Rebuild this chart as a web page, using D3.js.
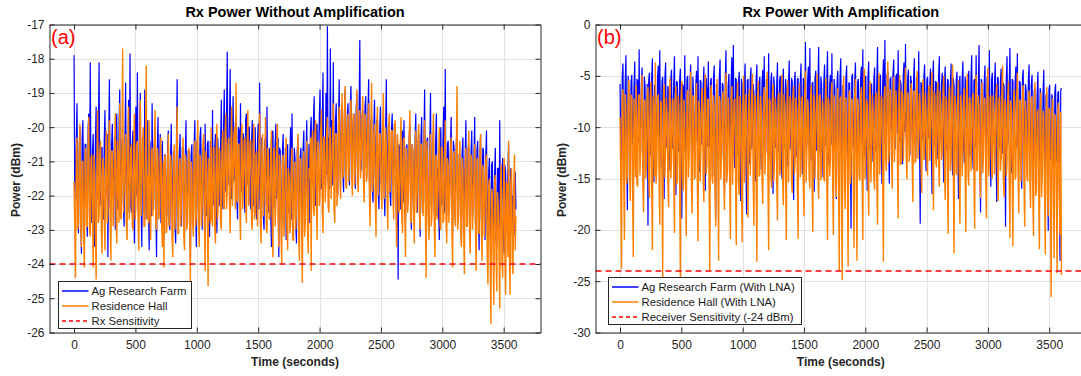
<!DOCTYPE html>
<html>
<head>
<meta charset="utf-8">
<script src="https://cdn.jsdelivr.net/npm/d3@7"></script>
<style>
  body { margin: 0; background: #fff; }
  svg { display: block; font-family: "Liberation Sans", Arial, sans-serif; }
</style>
</head>
<body>
<svg id="chart" width="1081" height="376"></svg>
<script>
// one reading every 6 seconds (0 .. 3600 s), dBm
const sampleStep = 6;

const farmNoAmp = [
  -17.9,-22.2,-21.4,-20.4,-19.3,-22.0,-23.1,-20.6,-20.0,-22.4,-23.7,-20.3,-19.8,-21.9,-22.6,-20.5,-20.5,-22.3,-23.2,-20.1,-19.6,-22.1,-18.1,-21.8,-22.8,-20.7,-20.2,-22.5,-23.5,-20.4,-19.4,-22.0,-22.1,-20.2,-18.1,-22.3,-21.9,-20.6,-20.6,-22.2,
  -22.7,-20.4,-19.5,-22.1,-21.8,-20.2,-23.8,-20.6,-18.6,-22.3,-22.4,-20.5,-19.9,-22.0,-21.3,-20.3,-23.0,-20.7,-19.6,-22.4,-22.2,-20.1,-18.9,-21.9,-21.6,-20.4,-20.3,-22.2,-22.9,-20.6,-18.7,-22.0,-21.1,-22.5,-19.2,-21.8,-17.85,-22.3,-22.5,-20.5,
  -20.1,-22.3,-23.4,-20.5,-19.4,-22.0,-18.4,-22.4,-22.0,-20.2,-19.0,-22.1,-23.5,-20.6,-20.6,-22.5,-18.9,-21.9,-22.7,-20.3,-19.8,-22.2,-23.6,-20.4,-20.9,-22.6,-19.3,-22.0,-22.4,-20.5,-20.0,-22.3,-23.8,-20.7,-19.7,-22.1,-21.5,-20.2,-22.8,-20.6,
  -20.4,-22.7,-23.3,-20.8,-21.0,-22.5,-22.6,-20.6,-20.1,-22.8,-23.0,-20.9,-19.9,-22.4,-22.1,-20.7,-20.8,-22.9,-23.4,-20.5,-18.6,-22.6,-21.7,-20.8,-20.2,-22.7,-22.9,-20.6,-20.6,-22.5,-23.1,-20.9,-19.8,-22.8,-22.0,-20.7,-20.7,-22.6,-23.9,-20.8,
  -20.5,-22.4,-22.8,-20.6,-19.8,-22.2,-23.5,-20.4,-20.9,-22.5,-22.2,-20.3,-20.0,-22.1,-23.0,-20.6,-21.2,-22.6,-19.9,-22.3,-22.6,-20.5,-20.4,-22.0,-23.2,-20.4,-20.7,-22.4,-19.5,-22.2,-22.3,-20.6,-20.2,-22.5,-23.1,-20.3,-20.8,-22.3,-21.9,-20.5,
  -19.2,-21.8,-22.4,-20.0,-18.9,-21.9,-21.6,-19.8,-17.8,-21.7,-20.9,-19.9,-18.3,-22.0,-22.1,-20.1,-19.1,-21.6,-21.4,-19.9,-19.7,-22.1,-22.7,-20.0,-20.1,-21.8,-19.3,-21.9,-21.8,-20.2,-20.2,-22.0,-22.5,-19.8,-19.6,-21.7,-21.1,-20.0,-20.0,-22.2,
  -22.4,-20.4,-19.8,-22.3,-21.2,-22.5,-20.0,-22.1,-22.7,-20.5,-19.9,-22.4,-18.7,-22.2,-22.0,-20.3,-20.6,-22.6,-23.0,-20.4,-20.3,-22.3,-19.4,-22.0,-22.5,-20.6,-20.8,-22.5,-23.5,-20.2,-20.1,-22.4,-22.2,-20.5,-19.9,-22.1,-21.6,-20.3,-23.8,-20.6,
  -20.7,-22.6,-22.9,-20.7,-20.2,-22.8,-21.8,-20.6,-23.3,-20.9,-20.5,-22.5,-22.4,-20.8,-20.0,-22.7,-19.6,-22.4,-22.7,-20.6,-20.9,-22.8,-23.4,-20.7,-20.3,-22.6,-21.9,-20.9,-20.6,-22.5,-23.1,-20.6,-20.1,-22.7,-22.3,-20.8,-19.8,-22.4,-21.7,-20.5,
  -22.8,-20.1,-19.7,-21.7,-21.4,-19.8,-19.1,-21.9,-22.3,-20.0,-19.9,-21.6,-21.0,-19.7,-18.9,-21.8,-21.8,-19.9,-18.4,-21.5,-20.6,-21.7,-19.0,-21.4,-17.05,-21.6,-20.3,-21.8,-17.7,-21.3,-19.8,-21.7,-18.1,-21.5,-21.5,-19.8,-19.3,-21.9,-22.0,-19.9,
  -18.6,-21.2,-21.3,-19.5,-19.4,-21.4,-21.9,-19.7,-18.9,-21.1,-20.8,-19.6,-19.3,-21.3,-21.7,-19.4,-18.8,-21.0,-20.4,-19.8,-19.6,-21.4,-21.8,-19.5,-19.0,-21.2,-20.9,-19.6,-17.45,-21.3,-21.2,-19.7,-19.5,-21.5,-21.9,-19.4,-19.1,-21.2,-20.6,-19.6,
  -18.6,-21.6,-21.5,-19.9,-19.7,-21.8,-22.2,-20.0,-19.2,-21.5,-21.0,-19.8,-19.8,-21.9,-22.4,-20.1,-19.4,-21.7,-21.3,-19.9,-20.2,-21.8,-22.6,-20.2,-18.6,-21.6,-21.2,-20.0,-19.9,-21.9,-22.3,-20.1,-19.6,-21.7,-21.7,-19.9,-20.4,-21.8,-22.9,-20.2,
  -24.45,-20.5,-20.6,-22.4,-22.3,-20.4,-20.1,-22.2,-19.8,-22.5,-22.8,-20.6,-20.5,-22.3,-21.9,-20.3,-19.9,-22.1,-23.0,-20.5,-20.7,-22.4,-21.6,-20.4,-19.6,-22.2,-22.5,-20.6,-20.2,-22.3,-23.2,-20.3,-19.7,-22.5,-21.4,-20.5,-18.9,-22.2,-22.1,-20.4,
  -20.3,-22.5,-23.0,-20.5,-19.0,-22.3,-21.8,-20.6,-20.1,-22.4,-22.7,-20.4,-19.6,-22.6,-21.2,-22.5,-23.3,-20.6,-20.0,-22.3,-22.1,-20.4,-19.4,-22.5,-18.3,-22.2,-22.6,-20.5,-20.4,-22.4,-21.9,-20.6,-19.7,-22.3,-23.1,-20.4,-20.6,-22.6,-22.0,-20.5,
  -19.9,-22.7,-22.5,-20.8,-20.8,-22.6,-23.4,-20.7,-20.3,-22.8,-21.8,-20.9,-19.8,-22.5,-22.9,-20.6,-20.6,-22.7,-23.2,-20.8,-20.1,-22.6,-21.7,-20.9,-19.7,-22.8,-22.8,-20.7,-20.4,-22.5,-23.6,-20.8,-20.2,-22.7,-22.0,-20.6,-20.7,-22.6,-23.3,-20.9,
  -20.1,-23.1,-22.6,-21.3,-20.9,-23.2,-23.1,-21.1,-21.0,-23.0,-22.4,-21.4,-20.6,-23.3,-23.5,-21.2,-21.2,-23.1,-19.8,-22.9,-22.8,-21.3,-20.9,-23.2,-23.7,-21.1,-21.3,-23.0,-22.2,-21.4,-20.5,-23.3,-23.4,-21.2,-21.6,-23.1,-22.0,-23.2,-23.0,-21.3,
  -22.4
];

const hallNoAmp = [
  -21.6,-22.9,-24.4,-20.9,-20.3,-23.0,-22.8,-20.7,-19.9,-22.8,-23.5,-21.0,-21.0,-23.1,-24.1,-20.8,-20.6,-22.9,-22.9,-20.6,-19.7,-23.0,-23.2,-20.9,-20.8,-22.7,-24.1,-20.8,-21.3,-23.1,-24.45,-21.0,-19.5,-22.8,-22.6,-20.7,-20.4,-23.0,-23.7,-20.9,
  -21.2,-22.7,-23.6,-20.6,-20.1,-22.8,-22.4,-20.5,-19.8,-22.6,-23.9,-20.7,-20.7,-22.9,-22.2,-20.6,-19.6,-22.7,-23.4,-20.4,-21.1,-22.8,-19.3,-22.6,-22.7,-20.7,-17.7,-22.5,-21.8,-20.6,-20.2,-22.8,-23.3,-20.5,-19.4,-22.7,-22.0,-20.6,-20.5,-22.9,
  -23.0,-20.6,-19.6,-22.7,-22.3,-20.5,-20.4,-22.8,-23.6,-20.7,-19.2,-22.6,-21.7,-20.4,-20.0,-22.9,-22.9,-20.6,-18.2,-22.7,-21.4,-22.8,-19.8,-22.5,-23.3,-20.7,-20.6,-22.6,-22.1,-20.5,-19.5,-22.8,-23.0,-20.6,-20.9,-22.7,-22.5,-20.8,-20.3,-22.9,
  -23.5,-21.0,-24.1,-20.9,-20.8,-23.1,-23.0,-21.1,-20.2,-22.9,-22.7,-20.8,-21.1,-23.2,-23.8,-21.0,-20.5,-23.0,-22.4,-20.9,-19.4,-23.1,-23.1,-21.2,-20.9,-22.9,-22.0,-21.0,-20.3,-23.2,-23.6,-20.8,-21.0,-23.0,-22.8,-21.1,-20.6,-22.9,-24.5,-21.0,
  -21.3,-22.8,-23.2,-20.7,-20.4,-22.9,-22.6,-20.6,-19.8,-22.7,-23.5,-20.8,-21.1,-22.9,-22.3,-20.5,-20.2,-22.8,-24.2,-20.7,-20.9,-22.6,-24.65,-20.9,-21.5,-22.8,-20.0,-22.7,-22.9,-20.6,-20.6,-22.9,-23.4,-20.8,-19.9,-22.7,-22.1,-20.6,-20.7,-22.8,
  -23.0,-20.4,-20.1,-22.3,-22.4,-20.3,-19.6,-22.4,-21.9,-20.5,-20.3,-22.2,-23.1,-20.4,-19.4,-22.3,-21.6,-20.2,-20.0,-22.4,-18.7,-22.1,-22.2,-20.5,-20.5,-22.3,-23.3,-20.3,-19.9,-22.4,-21.7,-20.4,-20.3,-22.2,-22.8,-20.5,-19.5,-22.3,-21.4,-20.4,
  -20.4,-22.8,-23.0,-20.7,-19.9,-22.7,-22.5,-20.8,-20.7,-22.9,-21.8,-20.6,-19.6,-22.8,-23.4,-20.7,-20.2,-22.6,-22.1,-20.8,-19.7,-22.9,-23.1,-20.6,-20.9,-22.7,-22.6,-20.8,-20.1,-22.8,-23.8,-20.7,-20.6,-22.9,-22.3,-20.6,-19.9,-22.7,-23.5,-20.8,
  -21.2,-23.1,-24.0,-21.0,-20.8,-23.2,-22.7,-21.1,-20.3,-23.0,-23.6,-21.2,-21.4,-23.1,-22.9,-21.0,-20.6,-23.3,-23.3,-21.1,-21.0,-23.0,-22.4,-21.2,-20.2,-23.2,-23.9,-20.9,-21.1,-23.1,-24.55,-21.0,-20.7,-23.2,-22.8,-21.1,-20.4,-23.0,-23.7,-21.2,
  -21.5,-20.3,-24.2,-20.4,-20.1,-22.3,-22.6,-20.2,-19.8,-22.2,-23.3,-20.4,-20.6,-22.3,-22.0,-20.1,-19.5,-22.4,-23.1,-20.3,-20.3,-22.2,-21.7,-20.2,-19.7,-22.3,-22.5,-20.4,-20.0,-22.1,-21.4,-20.3,-19.3,-22.4,-22.8,-20.2,-20.2,-22.3,-21.9,-20.1,
  -19.4,-21.6,-22.1,-19.8,-19.0,-21.5,-21.3,-19.7,-18.8,-21.7,-21.8,-19.9,-19.6,-21.6,-20.9,-19.8,-19.2,-21.5,-22.0,-19.6,-19.7,-21.7,-21.2,-19.9,-18.9,-21.6,-21.9,-19.7,-19.5,-21.5,-20.8,-19.8,-19.1,-21.7,-22.2,-19.6,-19.8,-21.6,-21.4,-19.8,
  -19.3,-22.0,-22.9,-20.1,-18.7,-21.9,-21.6,-20.2,-19.9,-22.1,-23.2,-20.0,-19.4,-22.0,-21.1,-20.2,-20.2,-21.9,-22.4,-20.1,-19.0,-22.1,-21.8,-20.0,-20.5,-22.0,-23.0,-20.2,-19.6,-21.9,-21.4,-20.1,-20.1,-22.1,-22.7,-20.0,-19.8,-22.0,-23.5,-20.2,
  -20.6,-22.5,-22.4,-20.5,-19.7,-22.6,-23.1,-20.4,-20.3,-22.4,-23.8,-20.6,-20.9,-22.5,-22.0,-20.3,-19.5,-22.7,-22.8,-20.5,-20.7,-22.4,-23.4,-20.6,-20.1,-22.5,-21.9,-20.4,-19.9,-22.6,-23.0,-20.5,-20.5,-22.3,-22.6,-20.6,-19.8,-22.5,-24.4,-20.4,
  -21.0,-22.8,-23.3,-20.8,-20.2,-22.9,-22.5,-20.7,-19.6,-22.8,-23.8,-20.9,-20.8,-22.7,-22.1,-20.8,-20.0,-22.9,-23.0,-20.6,-20.6,-22.8,-22.7,-20.8,-19.8,-22.7,-23.4,-20.9,-21.1,-22.8,-22.2,-20.7,-20.3,-22.9,-24.1,-20.8,-20.7,-22.7,-22.9,-20.9,
  -18.8,-23.0,-22.6,-21.0,-20.4,-23.1,-23.5,-20.9,-21.2,-23.0,-24.3,-21.1,-20.6,-22.9,-22.9,-21.0,-20.1,-23.2,-23.7,-20.8,-21.0,-23.0,-22.3,-21.1,-20.5,-22.9,-24.2,-21.0,-20.9,-23.1,-23.1,-20.9,-20.2,-23.0,-23.9,-21.1,-21.3,-23.2,-22.5,-21.0,
  -20.8,-23.8,-24.6,-21.7,-21.5,-23.9,-25.76,-21.8,-22.0,-23.7,-25.2,-21.6,-21.4,-23.8,-24.8,-21.9,-22.3,-23.6,-25.3,-21.7,-21.1,-23.9,-24.4,-21.8,-20.9,-23.7,-24.9,-21.6,-21.7,-23.8,-20.4,-23.5,-24.9,-21.7,-21.2,-23.9,-24.3,-21.8,-20.8,-23.6,
  -22.6
];

const farmLna = [
  -5.8,-11.8,-15.2,-5.2,-3.8,-12.1,-11.6,-5.9,-3.0,-11.4,-18.1,-5.0,-6.4,-12.3,-13.2,-5.6,-4.9,-11.7,-9.8,-6.1,-3.6,-12.0,-14.7,-5.3,-5.5,-11.5,-2.4,-12.2,-12.3,-5.7,-4.2,-11.9,-16.1,-5.1,-6.0,-12.4,-11.0,-5.8,-19.6,-5.4,
  -4.7,-11.6,-12.8,-5.4,-3.3,-12.2,-15.4,-5.9,-6.2,-11.8,-10.5,-5.1,-4.0,-12.0,-2.5,-11.5,-13.9,-5.6,-5.1,-12.3,-17.0,-5.2,-3.7,-11.9,-11.8,-6.0,-6.6,-11.7,-14.2,-5.3,-4.4,-12.1,-9.5,-5.8,-3.1,-11.4,-16.6,-5.5,-5.7,-12.0,
  -12.4,-5.5,-4.3,-11.9,-18.9,-5.8,-6.1,-12.2,-3.0,-11.6,-13.5,-5.3,-5.0,-12.0,-10.2,-5.7,-3.9,-11.8,-15.1,-5.1,-6.8,-12.3,-11.7,-5.9,-4.5,-11.5,-3.1,-12.1,-14.4,-5.4,-5.6,-11.7,-9.9,-6.0,-4.1,-12.2,-16.2,-5.2,-6.3,-11.9,
  -3.6,-11.7,-12.0,-5.6,-5.2,-12.1,-14.8,-5.3,-4.0,-11.9,-19.0,-5.8,-6.5,-12.4,-10.8,-5.1,-3.4,-11.6,-13.1,-5.7,-5.9,-12.0,-16.4,-5.4,-2.5,-11.8,-11.3,-6.0,-4.8,-12.2,-9.6,-5.5,-3.2,-11.5,-2.0,-12.1,-14.0,-5.2,-5.4,-11.9,
  -12.7,-5.7,-4.6,-12.0,-17.2,-5.3,-6.0,-11.8,-10.1,-5.9,-3.8,-12.2,-18.5,-5.5,-5.3,-11.6,-13.6,-5.2,-4.2,-12.1,-11.4,-5.8,-6.7,-11.9,-15.3,-5.4,-3.9,-12.3,-9.4,-6.0,-5.1,-11.7,-14.1,-5.6,-4.4,-12.0,-3.1,-11.5,-12.5,-5.3,
  -5.8,-11.9,-2.8,-12.2,-13.0,-5.6,-4.7,-11.7,-16.5,-5.1,-6.1,-12.0,-10.6,-5.8,-3.7,-12.3,-12.2,-5.4,-5.0,-11.6,-15.0,-5.9,-4.3,-12.1,-9.7,-5.3,-6.4,-11.8,-13.8,-5.7,-3.5,-12.2,-11.1,-5.2,-5.5,-11.9,-17.1,-5.6,-4.6,-12.0,
  -12.9,-5.4,-5.2,-11.8,-10.4,-5.7,-3.8,-12.1,-14.6,-5.2,-6.0,-11.6,-1.7,-12.2,-11.5,-5.5,-4.1,-11.9,-2.3,-12.0,-13.3,-5.8,-5.6,-11.7,-16.3,-5.3,-4.5,-12.3,-9.8,-5.9,-2.2,-11.6,-12.6,-5.1,-5.9,-12.0,-14.9,-5.6,-3.9,-11.8,
  -11.0,-5.5,-2.6,-12.0,-13.7,-5.8,-4.9,-11.7,-2.8,-12.2,-12.1,-5.3,-6.2,-11.9,-17.0,-5.6,-4.5,-12.1,-10.3,-5.2,-3.3,-11.8,-14.2,-5.9,-6.5,-12.3,-11.8,-5.4,-4.0,-11.6,-15.6,-5.7,-5.7,-12.0,-19.9,-5.1,-4.8,-11.9,-12.4,-5.5,
  -3.7,-11.8,-14.0,-5.6,-5.3,-12.1,-9.9,-5.3,-4.1,-11.7,-2.4,-12.0,-12.8,-5.5,-5.0,-11.9,-16.2,-5.2,-3.6,-12.2,-11.2,-5.8,-5.8,-11.6,-13.4,-5.4,-4.2,-12.3,-9.6,-5.7,-2.2,-11.8,-12.0,-5.1,-4.9,-12.0,-15.5,-5.6,-3.4,-11.7,
  -1.5,-10.6,-10.8,-5.0,-4.6,-10.9,-15.5,-5.3,-5.2,-10.4,-9.3,-4.8,-3.4,-11.0,-12.1,-5.1,-4.8,-10.7,-2.5,-10.3,-11.4,-5.4,-5.9,-10.8,-13.6,-4.9,-3.7,-10.5,-1.9,-11.1,-10.2,-5.2,-4.4,-10.6,-12.7,-5.0,-5.6,-10.9,-8.9,-5.3,
  -3.3,-11.2,-13.0,-5.3,-5.4,-11.5,-2.6,-11.0,-19.4,-5.6,-6.0,-11.3,-10.9,-5.1,-3.9,-11.6,-14.3,-5.4,-5.1,-11.1,-9.7,-5.8,-4.3,-11.4,-16.5,-5.2,-3.5,-11.7,-11.6,-5.5,-5.7,-11.3,-13.1,-5.0,-3.1,-11.5,-10.0,-5.7,-4.7,-11.2,
  -15.4,-5.6,-4.1,-11.8,-12.3,-5.3,-5.5,-12.0,-9.2,-5.8,-3.8,-11.6,-14.7,-5.2,-6.1,-12.1,-11.0,-5.5,-4.6,-11.7,-17.0,-5.9,-5.0,-12.2,-10.6,-5.4,-3.6,-11.9,-13.5,-5.1,-6.3,-11.8,-9.4,-5.7,-4.5,-12.0,-12.9,-5.3,-3.0,-11.6,
  -14.1,-5.5,-5.3,-12.0,-3.0,-11.7,-11.7,-5.8,-2.0,-12.2,-18.3,-5.3,-5.8,-11.9,-10.4,-5.6,-4.0,-12.1,-13.2,-5.1,-6.2,-11.8,-2.5,-12.3,-15.8,-5.4,-4.7,-11.6,-9.5,-5.7,-3.7,-12.0,-17.3,-5.2,-5.2,-11.9,-11.9,-5.6,-4.3,-12.1,
  -12.6,-5.7,-6.0,-12.1,-19.7,-5.4,-3.1,-11.8,-10.7,-5.9,-2.3,-12.2,-14.5,-5.3,-5.5,-11.7,-9.8,-5.6,-4.1,-12.0,-2.8,-11.6,-13.3,-5.5,-5.7,-12.3,-16.0,-5.2,-4.4,-11.9,-11.2,-5.8,-6.4,-12.1,-12.0,-5.4,-3.9,-11.7,-15.1,-5.9,
  -4.9,-12.8,-13.8,-6.4,-6.2,-13.1,-10.3,-6.7,-4.6,-12.9,-16.7,-6.2,-7.0,-13.3,-12.2,-6.6,-4.4,-12.7,-14.9,-6.9,-6.8,-13.0,-20.1,-6.3,-5.9,-13.2,-11.5,-6.8,-7.3,-12.8,-17.4,-6.5,-5.8,-13.4,-13.0,-6.7,-6.5,-13.1,-23.0,-6.4,
  -6.2
];

const hallLna = [
  -9.0,-15.2,-23.8,-7.1,-6.3,-14.8,-21.0,-6.8,-8.1,-15.5,-14.6,-7.4,-5.4,-14.6,-17.2,-6.9,-7.0,-15.3,-22.65,-7.2,-9.8,-14.9,-5.9,-15.6,-15.7,-7.0,-6.8,-14.7,-12.4,-6.7,-4.9,-15.4,-18.3,-7.3,-7.5,-15.0,-13.6,-6.9,-6.1,-15.1,
  -16.9,-7.2,-5.6,-15.3,-22.0,-6.9,-8.4,-14.8,-3.7,-15.5,-14.0,-7.0,-6.9,-14.6,-19.5,-7.4,-7.7,-15.2,-24.6,-6.8,-5.8,-14.9,-11.9,-7.1,-8.6,-15.4,-17.8,-6.7,-5.2,-15.0,-13.4,-7.3,-7.3,-14.7,-20.3,-7.0,-6.0,-15.6,-15.1,-6.9,
  -7.9,-15.1,-24.8,-7.0,-5.5,-14.7,-16.2,-7.3,-8.8,-15.4,-20.6,-6.8,-6.4,-14.9,-12.8,-7.2,-4.6,-15.6,-18.4,-6.9,-7.1,-15.0,-14.9,-7.1,-5.7,-14.8,-21.1,-7.4,-8.3,-15.3,-11.6,-6.7,-6.2,-15.2,-17.3,-7.0,-4.8,-14.6,-13.7,-7.2,
  -7.4,-15.3,-23.95,-7.1,-5.9,-14.8,-15.5,-6.9,-8.0,-15.5,-19.7,-7.2,-5.3,-14.7,-23.0,-7.0,-7.6,-15.1,-12.6,-7.3,-6.5,-14.9,-18.1,-6.8,-4.7,-15.4,-14.3,-7.1,-8.5,-15.0,-20.9,-6.9,-6.0,-15.6,-11.4,-7.4,-7.2,-14.6,-21.5,-7.0,
  -5.6,-15.2,-16.6,-7.0,-7.8,-14.9,-21.2,-7.3,-5.0,-15.4,-13.2,-6.8,-8.2,-15.0,-18.8,-7.1,-6.3,-14.7,-12.1,-7.2,-4.8,-15.5,-19.6,-6.9,-7.0,-15.1,-23.1,-7.4,-5.5,-14.8,-14.6,-7.0,-8.7,-15.3,-17.5,-7.1,-6.1,-14.6,-11.8,-6.9,
  -4.6,-15.0,-22.0,-7.2,-7.5,-14.8,-15.9,-6.9,-5.8,-15.3,-12.9,-7.1,-8.4,-15.5,-19.1,-7.0,-6.6,-14.7,-14.2,-7.3,-4.9,-15.2,-17.6,-6.8,-7.9,-14.9,-21.0,-7.2,-5.4,-15.4,-11.5,-7.0,-7.3,-15.1,-16.4,-6.9,-6.0,-14.6,-13.5,-7.1,
  -8.1,-15.3,-20.9,-7.0,-5.7,-14.9,-14.0,-7.2,-7.0,-15.1,-18.7,-6.9,-4.5,-15.4,-12.3,-7.3,-8.6,-14.8,-16.0,-7.1,-5.9,-15.5,-20.2,-6.8,-7.4,-15.0,-11.2,-7.2,-4.8,-14.7,-17.0,-7.0,-6.9,-15.2,-13.8,-7.3,-8.0,-14.9,-15.3,-7.1,
  -5.2,-15.2,-21.0,-7.1,-7.7,-14.8,-13.1,-7.0,-5.6,-15.4,-20.5,-6.9,-8.3,-15.0,-16.8,-7.3,-6.2,-14.7,-23.95,-7.2,-7.1,-15.3,-24.9,-6.8,-5.0,-15.1,-18.0,-7.1,-8.9,-14.9,-23.6,-7.0,-6.4,-15.5,-14.5,-7.2,-7.6,-14.6,-21.8,-6.9,
  -5.3,-15.0,-23.0,-7.2,-8.0,-14.8,-15.2,-7.0,-6.1,-15.3,-21.0,-6.9,-4.3,-15.1,-13.0,-7.3,-7.7,-14.7,-18.6,-7.1,-5.5,-15.4,-12.0,-6.8,-8.4,-14.9,-16.1,-7.2,-6.6,-15.2,-19.5,-7.0,-4.7,-14.6,-11.3,-6.9,-7.3,-15.0,-23.1,-7.1,
  -6.0,-13.2,-14.3,-6.6,-3.6,-13.5,-12.5,-6.3,-7.2,-13.0,-16.0,-6.7,-5.1,-13.4,-11.0,-6.4,-8.0,-13.1,-18.9,-6.8,-4.9,-13.6,-13.6,-6.5,-6.8,-13.3,-10.4,-6.2,-4.2,-13.0,-15.1,-6.6,-7.5,-13.4,-12.2,-6.5,-5.7,-13.2,-17.3,-6.7,
  -6.4,-13.4,-13.3,-6.5,-4.5,-13.1,-11.6,-6.7,-7.9,-13.5,-16.4,-6.4,-5.3,-13.2,-12.8,-6.6,-8.2,-13.0,-14.7,-6.8,-5.9,-13.3,-10.9,-6.3,-4.6,-13.6,-18.1,-6.5,-7.0,-13.1,-13.9,-6.7,-5.6,-13.4,-15.8,-6.4,-8.1,-13.2,-12.0,-6.6,
  -5.0,-14.4,-17.1,-7.0,-7.4,-14.7,-20.4,-6.8,-6.0,-14.3,-13.0,-7.1,-3.9,-14.6,-22.3,-6.9,-7.8,-14.5,-14.6,-7.2,-5.4,-14.2,-19.4,-6.9,-8.3,-14.8,-12.4,-7.0,-6.2,-14.4,-20.2,-6.8,-4.8,-14.6,-15.7,-7.1,-7.6,-14.3,-11.8,-7.0,
  -6.7,-14.6,-19.9,-7.1,-4.9,-14.3,-14.1,-6.9,-8.0,-14.7,-16.9,-7.0,-5.6,-14.5,-12.7,-7.2,-7.3,-14.4,-18.9,-6.8,-4.2,-14.8,-13.4,-7.1,-6.9,-14.2,-15.0,-6.9,-8.5,-14.6,-11.7,-7.0,-5.8,-14.5,-17.2,-7.2,-7.1,-14.3,-13.1,-6.8,
  -4.0,-15.0,-16.8,-7.3,-7.7,-14.8,-13.5,-7.1,-5.5,-15.2,-20.8,-7.4,-8.2,-14.9,-21.6,-7.2,-6.3,-15.1,-14.8,-7.5,-4.7,-14.7,-18.4,-7.3,-7.5,-15.3,-12.6,-7.0,-5.9,-15.0,-19.7,-7.4,-8.8,-14.8,-15.3,-7.2,-6.4,-15.2,-17.9,-7.3,
  -7.0,-16.4,-20.6,-8.2,-5.6,-16.7,-16.2,-8.5,-8.4,-16.2,-21.9,-8.0,-6.6,-16.8,-14.4,-8.4,-9.0,-16.5,-22.4,-8.6,-6.1,-16.3,-18.7,-8.1,-8.6,-16.9,-26.55,-8.3,-7.2,-16.6,-22.8,-8.7,-9.3,-16.4,-24.2,-8.2,-7.6,-16.7,-20.5,-8.5,
  -24.4
];

const timeTicks = [0, 500, 1000, 1500, 2000, 2500, 3000, 3500];
const powerTicksA = [-26, -25, -24, -23, -22, -21, -20, -19, -18, -17];
const powerTicksB = [-30, -25, -20, -15, -10, -5, 0];
const sensitivityDbm = -24;

const legendA = ["Ag Research Farm", "Residence Hall", "Rx Sensitivity"];
const legendB = ["Ag Research Farm (With LNA)", "Residence Hall (With LNA)", "Receiver Sensitivity (-24 dBm)"];

const blue = "#0000ff";
const orange = "#ff8000";
const axisColor = "#262626";

const plotTop = 24.5;
const plotBottom = 332.5;

const svg = d3.select("#chart");

const panels = [
  { id: "a", left: 49.5, right: 540.5, yDomain: [-26, -17], yTicks: powerTicksA,
    farm: farmNoAmp, hall: hallNoAmp, title: "Rx Power Without Amplification",
    tag: "(a)", legend: legendA, legendBox: { x: 58.5, y: 281.5, w: 133, h: 47 } },
  { id: "b", left: 595.5, right: 1086, yDomain: [-30, 0], yTicks: powerTicksB,
    farm: farmLna, hall: hallLna, title: "Rx Power With Amplification",
    tag: "(b)", legend: legendB, legendBox: { x: 608.5, y: 277.5, w: 193, h: 47 } }
];

panels.forEach(drawPanel);

function drawPanel(p) {
  const x = d3.scaleLinear().domain([-200, 3800]).range([p.left, p.right]);
  const y = d3.scaleLinear().domain(p.yDomain).range([plotBottom, plotTop]);
  const g = svg.append("g");

  svg.append("clipPath").attr("id", "clip-" + p.id)
    .append("rect")
    .attr("x", p.left).attr("y", plotTop)
    .attr("width", p.right - p.left).attr("height", plotBottom - plotTop);

  // grid
  g.append("g").selectAll("line").data(timeTicks).join("line")
    .attr("x1", d => Math.round(x(d)) + 0.5).attr("x2", d => Math.round(x(d)) + 0.5)
    .attr("y1", plotTop).attr("y2", plotBottom)
    .attr("stroke", "#e2e2e2");
  g.append("g").selectAll("line").data(p.yTicks).join("line")
    .attr("x1", p.left).attr("x2", p.right)
    .attr("y1", d => Math.round(y(d)) + 0.5).attr("y2", d => Math.round(y(d)) + 0.5)
    .attr("stroke", "#e2e2e2");

  // series, residence hall drawn over the farm
  const line = d3.line().x((d, i) => x(i * sampleStep)).y(d => y(d));
  const series = g.append("g").attr("clip-path", `url(#clip-${p.id})`);
  series.append("path").datum(p.farm)
    .attr("d", line).attr("fill", "none")
    .attr("stroke", blue).attr("stroke-width", 1.2);
  series.append("path").datum(p.hall)
    .attr("d", line).attr("fill", "none")
    .attr("stroke", orange).attr("stroke-width", 1.4);

  // sensitivity threshold
  g.append("line")
    .attr("x1", p.left).attr("x2", p.right)
    .attr("y1", y(sensitivityDbm)).attr("y2", y(sensitivityDbm))
    .attr("stroke", "#ff0000").attr("stroke-opacity", 0.75)
    .attr("stroke-width", 2).attr("stroke-dasharray", "6,4");

  // axes (ticks point inwards, like matlab)
  const styleAxis = sel => {
    sel.selectAll(".domain").attr("stroke", axisColor);
    sel.selectAll(".tick line").attr("stroke", axisColor);
    sel.selectAll(".tick text").attr("fill", axisColor).attr("font-size", 12);
    sel.attr("font-family", null);
  };
  const fmt = d => String(d);
  g.append("g").attr("transform", `translate(0,${plotBottom})`)
    .call(d3.axisBottom(x).tickValues(timeTicks).tickSize(-5).tickSizeOuter(0).tickPadding(8).tickFormat(fmt))
    .call(styleAxis);
  g.append("g").attr("transform", `translate(0,${plotTop})`)
    .call(d3.axisTop(x).tickValues(timeTicks).tickSize(-5).tickSizeOuter(0).tickFormat(""))
    .call(styleAxis);
  g.append("g").attr("transform", `translate(${p.left},0)`)
    .call(d3.axisLeft(y).tickValues(p.yTicks).tickSize(-5).tickSizeOuter(0).tickPadding(5).tickFormat(fmt))
    .call(styleAxis);
  g.append("g").attr("transform", `translate(${p.right},0)`)
    .call(d3.axisRight(y).tickValues(p.yTicks).tickSize(-5).tickSizeOuter(0).tickFormat(""))
    .call(styleAxis);

  // titles
  const mid = (p.left + p.right) / 2;
  g.append("text").attr("x", mid).attr("y", 17)
    .attr("text-anchor", "middle").attr("font-size", 14.5).attr("font-weight", "bold")
    .attr("fill", "#000").text(p.title);
  g.append("text").attr("x", mid).attr("y", 366)
    .attr("text-anchor", "middle").attr("font-size", 12).attr("font-weight", "bold")
    .attr("fill", axisColor).text("Time (seconds)");
  g.append("text")
    .attr("transform", `translate(${p.left - 34},180) rotate(-90)`)
    .attr("text-anchor", "middle").attr("dy", "0.35em")
    .attr("font-size", 12).attr("font-weight", "bold")
    .attr("fill", axisColor).text("Power (dBm)");

  g.append("text").attr("x", p.left + 1.5).attr("y", 44)
    .attr("font-size", 20).attr("fill", "#ff0000").text(p.tag);

  // legend
  const b = p.legendBox;
  const lg = g.append("g");
  lg.append("rect").attr("x", b.x).attr("y", b.y).attr("width", b.w).attr("height", b.h)
    .attr("fill", "#fff").attr("stroke", axisColor);
  const styles = [
    { color: blue, dash: null, opacity: 1 },
    { color: orange, dash: null, opacity: 1 },
    { color: "#ff0000", dash: "4,3", opacity: 0.75 }
  ];
  const rows = lg.selectAll("g.row").data(p.legend).join("g")
    .attr("class", "row")
    .attr("transform", (d, i) => `translate(${b.x},${b.y + 9.5 + i * 15})`);
  rows.append("line").attr("x1", 3.5).attr("x2", 30).attr("y1", 0).attr("y2", 0)
    .attr("stroke", (d, i) => styles[i].color)
    .attr("stroke-opacity", (d, i) => styles[i].opacity)
    .attr("stroke-dasharray", (d, i) => styles[i].dash)
    .attr("stroke-width", (d, i) => i === 2 ? 2 : 1.5);
  rows.append("text").attr("x", 33).attr("dy", "0.35em")
    .attr("font-size", 11.3).attr("fill", "#1a1a1a").text(d => d);
}
</script>
</body>
</html>
